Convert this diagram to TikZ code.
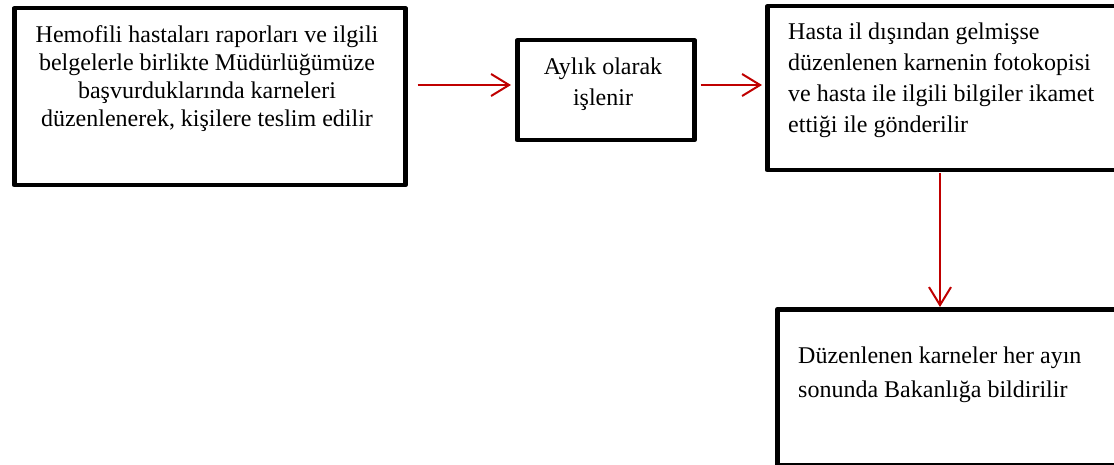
\documentclass[tikz,border=0pt]{standalone}
\usepackage{fontspec}
\setmainfont{Liberation Serif}
\usetikzlibrary{arrows.meta}
\definecolor{arrowred}{RGB}{192,0,0}
\begin{document}
\begin{tikzpicture}[x=1pt,y=1pt,
  box/.style={draw=black, line width=4.5pt, line join=round, rectangle, inner sep=0pt},
  label/.style={inner sep=0pt},
  flow/.style={draw=arrowred, line width=2pt, -{Straight Barb[length=18pt,width=22pt,line width=2pt]}}]
  \clip (0,0) rectangle (1114,-465);
  \fill[white] (0,0) rectangle (1114,-465);
  % boxes
  \node[box, minimum width=391pt, minimum height=177pt, anchor=north west] (b1) at (12,-6) {};
  \node[box, minimum width=177pt, minimum height=100pt, anchor=north west] (b2) at (515,-38) {};
  \node[box, minimum width=370pt, minimum height=164pt, anchor=north west] (b3) at (765,-4) {};
  \node[box, minimum width=360pt, minimum height=156pt, anchor=north west] (b4) at (775,-307) {};
  % texts (anchored on the baseline of the last line)
  \node[label, align=center, anchor=base, font=\fontsize{24}{28}\selectfont] (t1) at (207,-127)
    {Hemofili hastaları raporları ve ilgili\\belgelerle birlikte Müdürlüğümüze\\başvurduklarında karneleri\\düzenlenerek, kişilere teslim edilir};
  \node[label, align=center, anchor=base, font=\fontsize{24}{31}\selectfont] (t2) at (603,-106)
    {Aylık olarak\\işlenir};
  \node[label, align=left, anchor=base west, font=\fontsize{24}{31}\selectfont] (t3) at (788,-133)
    {Hasta il dışından gelmişse\\düzenlenen karnenin fotokopisi\\ve hasta ile ilgili bilgiler ikamet\\ettiği ile gönderilir};
  \node[label, align=left, anchor=base west, font=\fontsize{24}{34}\selectfont] (t4) at (798,-397)
    {Düzenlenen karneler her ayın\\sonunda Bakanlığa bildirilir};
  % connectors
  \draw[flow] (b1.east |- 0,-85) ++(10,0) -- ([xshift=-4pt]b2.west |- 0,-85);
  \draw[flow] (b2.east |- 0,-85) ++(4,0) -- ([xshift=-3pt]b3.west |- 0,-85);
  \draw[flow] (940,-173) coordinate (s3) -- (s3 |- b4.north);
\end{tikzpicture}
\end{document}
